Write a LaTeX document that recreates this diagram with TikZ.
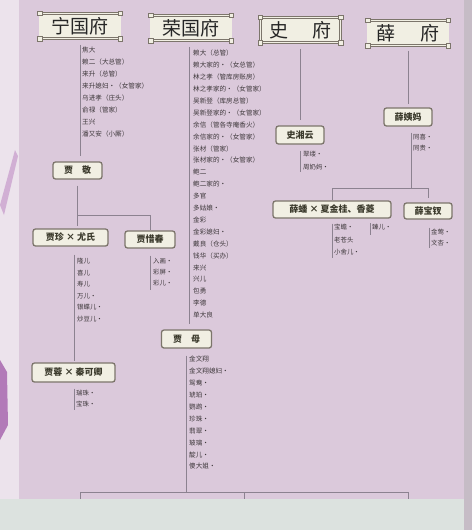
\documentclass[tikz,border=0pt]{standalone}
\usepackage{fontspec}
\setmainfont{Noto Sans CJK SC}
\usetikzlibrary{positioning}

\definecolor{paper}{HTML}{DBC9DB}
\definecolor{paperedge}{HTML}{ECE3EC}
\definecolor{frame}{HTML}{C6BCC6}
\definecolor{floor}{HTML}{DCE2DF}
\definecolor{cream}{HTML}{F1EFE3}
\definecolor{boxline}{HTML}{7C756B}
\definecolor{ink}{HTML}{3E383B}
\definecolor{boxink}{HTML}{3B3A2C}
\definecolor{wirec}{HTML}{8C8290}
\definecolor{deco}{HTML}{B27AB8}

\tikzset{
  hdr/.style={draw=boxline, line width=0.6pt, double=cream, double distance=1.2pt,
    fill=cream, minimum width=80pt, minimum height=25pt, inner sep=0pt,
    font=\fontsize{19}{19}\selectfont, text=black!85},
  who/.style={draw=boxline, line width=1.3pt, rounded corners=2.5pt, fill=cream,
    minimum height=17pt, inner sep=2pt, font=\bfseries\fontsize{9}{9}\selectfont, text=boxink},
  staff/.style={anchor=north west, inner sep=0pt, align=left, text=ink},
  wire/.style={draw=wirec, line width=0.5pt},
  gap/.style={shorten <=6pt, shorten >=5pt}
}

\begin{document}
\begin{tikzpicture}[x=1pt,y=-1pt]

  \useasboundingbox (0,0) rectangle (472,530);

  % Paper and photo edges
  \fill[paper] (0,0) rectangle (472,530);
  \fill[paperedge] (0,0) rectangle (19,530);
  \fill[deco!60] (0,205) -- (15,150) -- (18,156) -- (4,215) -- cycle;
  \fill[deco] (0,360) -- (7,372) -- (8,425) -- (0,440) -- cycle;
  \fill[floor] (0,499) rectangle (472,530);
  \fill[frame] (464,0) rectangle (472,530);

  % Specification of nodes (position, etc.)
  \node[hdr] (nf) at (80,26) {宁国府};
  \node[hdr] (rf) at (191,28) {荣国府};
  \node[hdr] (sf) at (300.5,30) {史\hspace{1.3em}府};
  \node[hdr] (xf) at (408,33) {薛\hspace{1.3em}府};
  \foreach \n in {nf,rf,sf,xf}
    \foreach \c in {north west,north east,south west,south east}
      \draw[boxline, line width=0.5pt, fill=cream] (\n.\c) ++(-2.2,-2.2) rectangle ++(4.4,4.4);

  \node[who, minimum width=49pt] (jj) at (77.5,170.5) {贾\quad 敬};
  \node[who, minimum width=75pt] (jz) at (70.5,237.5) {贾珍 × 尤氏};
  \node[who, minimum width=50pt] (xc) at (150,239.5) {贾惜春};
  \node[who, minimum width=83pt, minimum height=19pt] (jr) at (73.5,372.5) {贾蓉 × 秦可卿};
  \node[who, minimum width=50pt, minimum height=18pt] (jm) at (186.5,339) {贾\quad 母};
  \node[who, minimum width=48pt, minimum height=18pt] (sx) at (300,135) {史湘云};
  \node[who, minimum width=48pt, minimum height=18pt] (xy) at (408,117) {薛姨妈};
  \node[who, minimum width=118pt] (xp) at (332,209.5) {薛蟠 × 夏金桂、香菱};
  \node[who, minimum width=48pt, minimum height=16pt] (xb) at (428,211) {薛宝钗};

  % Staff lists
  \node[staff, font=\fontsize{6.6}{12}\selectfont] (nflist) at (82,47)
    {焦大\\赖二（大总管）\\来升（总管）\\来升媳妇•（女管家）\\乌进孝（庄头）\\俞禄（管家）\\王兴\\潘又安（小厮）};
  \node[staff, font=\fontsize{6.6}{11.9}\selectfont] (rflist) at (193,50)
    {赖大（总管）\\赖大家的•（女总管）\\林之孝（管库房账房）\\林之孝家的•（女管家）\\吴新登（库房总管）\\吴新登家的•（女管家）\\余信（管各寺庵香火）\\余信家的•（女管家）\\张材（管家）\\张材家的•（女管家）\\鲍二\\鲍二家的•\\多官\\多姑娘•\\金彩\\金彩媳妇•\\戴良（仓头）\\钱华（买办）\\来兴\\兴儿\\包勇\\李德\\单大良};
  \node[staff, font=\fontsize{6.4}{11.6}\selectfont] (jzlist) at (77,258)
    {隆儿\\喜儿\\寿儿\\万儿•\\银蝶儿•\\炒豆儿•};
  \node[staff, font=\fontsize{6.4}{11}\selectfont] (xclist) at (153,258)
    {入画•\\彩屏•\\彩儿•};
  \node[staff, font=\fontsize{6.4}{11}\selectfont] (jrlist) at (76,390)
    {瑞珠•\\宝珠•};
  \node[staff, font=\fontsize{6.6}{11.9}\selectfont] (jmlist) at (189,356)
    {金文翔\\金文翔媳妇•\\鸳鸯•\\琥珀•\\鹦鹉•\\珍珠•\\翡翠•\\玻璃•\\靛儿•\\傻大姐•};
  \node[staff, font=\fontsize{6.4}{12.5}\selectfont] (sxlist) at (303,151)
    {翠缕•\\周奶妈•};
  \node[staff, font=\fontsize{6.4}{11}\selectfont] (xylist) at (413,134)
    {同喜•\\同贵•};
  \node[staff, font=\fontsize{6.4}{12.5}\selectfont] (xplist) at (334,224)
    {宝蟾•\\老苍头\\小舍儿•};
  \node[staff, font=\fontsize{6.4}{11}\selectfont] (zrlist) at (372,224)
    {臻儿•};
  \node[staff, font=\fontsize{6.4}{11}\selectfont] (xblist) at (431,229)
    {金莺•\\文杏•};

  % Junctions and free ends
  \coordinate (jjfork) at (77.5,215);
  \coordinate (jzl) at (74,0);
  \coordinate (rfl) at (189,0);
  \coordinate (xyl) at (411,0);
  \coordinate (xyfork) at (411,188);
  \coordinate (sxend) at (300,172);
  \coordinate (xcend) at (150,290);
  \coordinate (jrend) at (74,410);
  \coordinate (xpend) at (332,258);
  \coordinate (zrtop) at (370,223);
  \coordinate (zrend) at (370,235);
  \coordinate (xbend) at (429,248);
  \coordinate (brL) at (80,492);
  \coordinate (brM) at (244,492);
  \coordinate (brR) at (408,492);
  \coordinate (brLd) at (80,499);
  \coordinate (brMd) at (244,499);
  \coordinate (brRd) at (408,499);

  \begin{scope}[wire]
    \draw[gap] (nf.south) to (nf.south |- jj.north);
    \draw[shorten <=6pt] (jj.south) to (jjfork);
    \draw (jjfork) -| (xc.north);
    \draw[shorten >=2pt] (jjfork) to (jjfork |- jz.north);
    \draw[shorten <=8pt, shorten >=1pt] (jzl |- jz.south) to (jzl |- jr.north);
    \draw[shorten <=7pt] (xc.south) to (xcend);
    \draw[shorten <=6pt] (jr.south -| jzl) to (jrend);
    \draw[gap] (rfl |- rf.south) to (rfl |- jm.north);
    \draw[shorten <=7pt] (jm.south) to (jm.south |- brL);
    \draw (brLd) -- (brL) -- (brR) -- (brRd);
    \draw (brM) to (brMd);
    \draw[gap] (sf.south) to (sf.south |- sx.north);
    \draw[shorten <=6pt] (sx.south) to (sxend);
    \draw[shorten <=5pt, shorten >=3pt] (xf.south) to (xf.south |- xy.north);
    \draw[shorten <=6pt] (xyl |- xy.south) to (xyfork);
    \draw (xyfork) -| (xp.north);
    \draw[shorten >=4pt] (xyfork) -| (xb.north);
    \draw[shorten <=5pt] (xp.south) to (xpend);
    \draw (zrtop) to (zrend);
    \draw[shorten <=8pt] (xb.south -| xbend) to (xbend);
  \end{scope}

\end{tikzpicture}
\end{document}
